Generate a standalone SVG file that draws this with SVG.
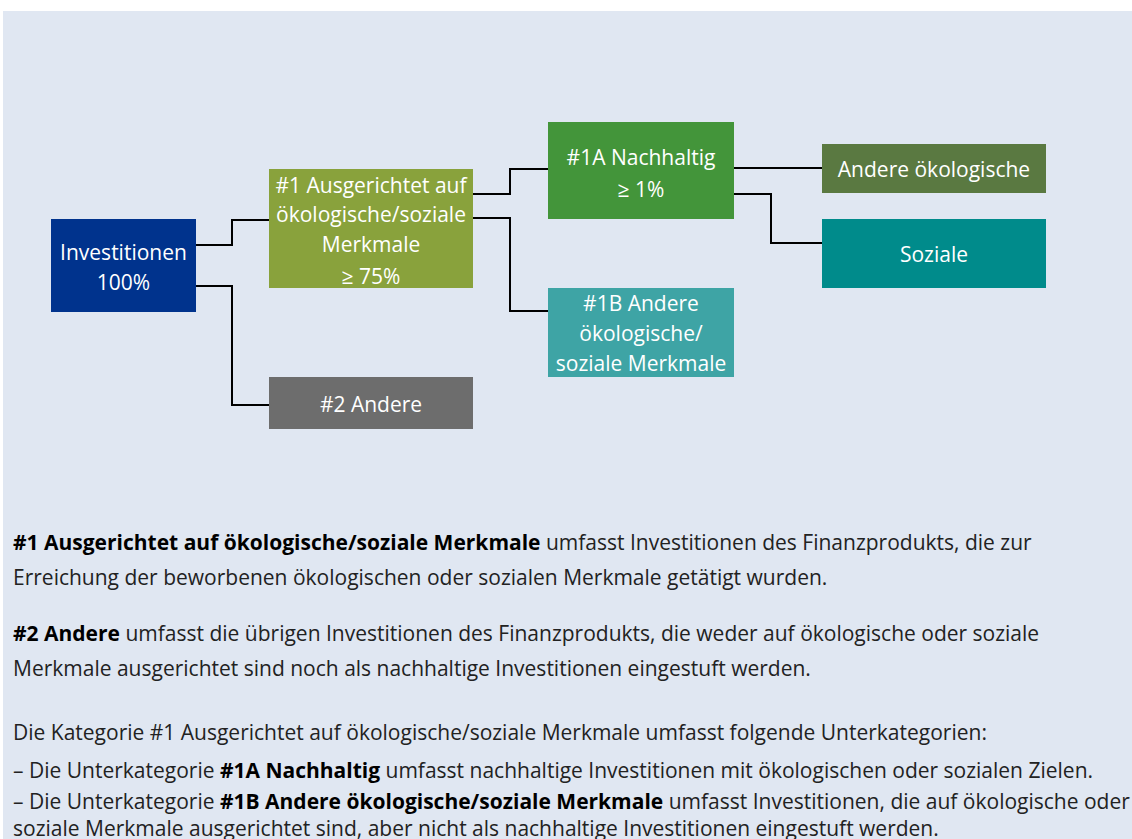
<svg xmlns="http://www.w3.org/2000/svg" width="1132" height="839" viewBox="0 0 1132 839">
<style>
.n{font-family:"Open Sans","Noto Sans",sans-serif;font-size:21px;fill:#fff;text-anchor:middle}
.t{font-family:"Open Sans","Noto Sans",sans-serif;font-size:21px;fill:#222}
.b{font-weight:bold;fill:#000}
.c{fill:none;stroke:#000;stroke-width:2}
</style>
<rect width="1132" height="839" fill="#fff"/>
<rect x="3" y="11" width="1129" height="828" fill="#e0e7f2"/>
<g id="connectors">
<path class="c" d="M196 245H232V220H269"/>
<path class="c" d="M196 286H232V405H269"/>
<path class="c" d="M473 194H510V169H548"/>
<path class="c" d="M473 218H510V311H548"/>
<path class="c" d="M734 168H822"/>
<path class="c" d="M734 194H771V243H822"/>
</g>
<g id="inv"><rect x="51" y="219" width="145" height="93" fill="#00338d"/>
<text class="n" x="123.5" y="260">Investitionen</text><text class="n" x="123.5" y="290">100%</text></g>
<g id="n1"><rect x="269" y="169" width="204" height="119" fill="#89a23c"/>
<text class="n" x="371" y="193">#1 Ausgerichtet auf</text><text class="n" x="371" y="222">ökologische/soziale</text><text class="n" x="371" y="252">Merkmale</text><text class="n" x="371" y="284">≥ 75%</text></g>
<g id="n2"><rect x="269" y="377" width="204" height="52" fill="#6d6d6d"/>
<text class="n" x="371" y="412">#2 Andere</text></g>
<g id="n1a"><rect x="548" y="122" width="186" height="97" fill="#43953a"/>
<text class="n" x="641" y="165">#1A Nachhaltig</text><text class="n" x="641" y="197">≥ 1%</text></g>
<g id="n1b"><rect x="548" y="288" width="186" height="89" fill="#3ea4a5"/>
<text class="n" x="641" y="311">#1B Andere</text><text class="n" x="641" y="341">ökologische/</text><text class="n" x="641" y="371">soziale Merkmale</text></g>
<g id="oeko"><rect x="822" y="144" width="224" height="49" fill="#5a7941"/>
<text class="n" x="934" y="177">Andere ökologische</text></g>
<g id="soz"><rect x="822" y="219" width="224" height="69" fill="#008b8b"/>
<text class="n" x="934" y="262">Soziale</text></g>
<g id="legend">
<text class="t" x="13" y="550"><tspan class="b">#1 Ausgerichtet auf ökologische/soziale Merkmale</tspan> umfasst Investitionen des Finanzprodukts, die zur</text>
<text class="t" x="13" y="585">Erreichung der beworbenen ökologischen oder sozialen Merkmale getätigt wurden.</text>
<text class="t" x="13" y="641"><tspan class="b">#2 Andere</tspan> umfasst die übrigen Investitionen des Finanzprodukts, die weder auf ökologische oder soziale</text>
<text class="t" x="13" y="676">Merkmale ausgerichtet sind noch als nachhaltige Investitionen eingestuft werden.</text>
<text class="t" x="13" y="740">Die Kategorie #1 Ausgerichtet auf ökologische/soziale Merkmale umfasst folgende Unterkategorien:</text>
<text class="t" x="13" y="778">– Die Unterkategorie <tspan class="b">#1A Nachhaltig</tspan> umfasst nachhaltige Investitionen mit ökologischen oder sozialen Zielen.</text>
<text class="t" x="13" y="809">– Die Unterkategorie <tspan class="b">#1B Andere ökologische/soziale Merkmale</tspan> umfasst Investitionen, die auf ökologische oder</text>
<text class="t" x="13" y="836">soziale Merkmale ausgerichtet sind, aber nicht als nachhaltige Investitionen eingestuft werden.</text>
</g>
</svg>
